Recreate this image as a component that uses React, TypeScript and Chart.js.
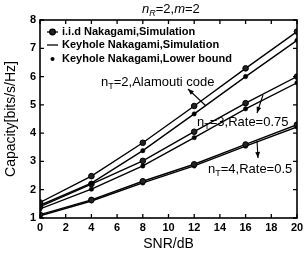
import React, { useEffect, useRef } from 'react';
import { Chart, registerables } from 'chart.js';
Chart.register(...registerables);

const snrDb = [0, 4, 8, 12, 16, 20];
const iidNT2 = [1.55, 2.48, 3.66, 4.96, 6.29, 7.59];
const keyholeNT2 = [1.45, 2.23, 3.38, 4.68, 6.0, 7.28];
const boundNT2 = [1.45, 2.23, 3.38, 4.68, 6.0, 7.28];
const iidNT3 = [1.4, 2.2, 3.02, 4.05, 5.06, 6.0];
const keyholeNT3 = [1.32, 2.02, 2.84, 3.84, 4.86, 5.78];
const boundNT3 = [1.32, 2.02, 2.84, 3.84, 4.86, 5.78];
const iidNT4 = [1.12, 1.64, 2.3, 2.9, 3.6, 4.3];
const keyholeNT4 = [1.08, 1.6, 2.24, 2.84, 3.54, 4.22];
const boundNT4 = [1.08, 1.6, 2.24, 2.84, 3.54, 4.22];

const legendLabels = ['i.i.d Nakagami,Simulation', 'Keyhole Nakagami,Simulation', 'Keyhole Nakagami,Lower bound'];
const xTitle = 'SNR/dB';
const yTitle = 'Capacity[bits/s/Hz]';

const FONT = 'Arial, "Liberation Sans", Helvetica, sans-serif';

type Part = { t: string; sub?: boolean; it?: boolean };

function drawParts(ctx: CanvasRenderingContext2D, parts: Part[], x: number, y: number, size: number, weight: string) {
  let cx = x;
  ctx.textAlign = 'left';
  ctx.textBaseline = 'alphabetic';
  for (const p of parts) {
    const s = p.sub ? Math.round(size * 0.7) : size;
    ctx.font = `${p.it ? 'italic ' : ''}${weight} ${s}px ${FONT}`;
    ctx.fillText(p.t, cx, p.sub ? y + size * 0.25 : y);
    cx += ctx.measureText(p.t).width;
  }
}

function arrow(ctx: CanvasRenderingContext2D, x1: number, y1: number, x2: number, y2: number) {
  ctx.beginPath();
  ctx.moveTo(x1, y1);
  ctx.lineTo(x2, y2);
  ctx.stroke();
  const a = Math.atan2(y2 - y1, x2 - x1);
  const L = 6, W = 2.4;
  ctx.beginPath();
  ctx.moveTo(x2, y2);
  ctx.lineTo(x2 - L * Math.cos(a) + W * Math.sin(a), y2 - L * Math.sin(a) - W * Math.cos(a));
  ctx.lineTo(x2 - L * Math.cos(a) - W * Math.sin(a), y2 - L * Math.sin(a) + W * Math.cos(a));
  ctx.closePath();
  ctx.fill();
}

const decor = {
  id: 'decor',
  afterDraw(chart: any) {
    const ctx: CanvasRenderingContext2D = chart.ctx;
    const { left, right, top, bottom } = chart.chartArea;
    const xs = chart.scales.x, ys = chart.scales.y;
    ctx.save();
    ctx.strokeStyle = '#000';
    ctx.fillStyle = '#000';
    ctx.lineWidth = 1.6;
    ctx.strokeRect(left, top, right - left, bottom - top);
    ctx.lineWidth = 1.3;
    for (let v = 0; v <= 20; v += 2) {
      const px = xs.getPixelForValue(v);
      ctx.beginPath();
      ctx.moveTo(px, bottom); ctx.lineTo(px, bottom - 4);
      ctx.moveTo(px, top); ctx.lineTo(px, top + 4);
      ctx.stroke();
    }
    for (let v = 1; v <= 8; v += 1) {
      const py = ys.getPixelForValue(v);
      ctx.beginPath();
      ctx.moveTo(left, py); ctx.lineTo(left + 4, py);
      ctx.moveTo(right, py); ctx.lineTo(right - 4, py);
      ctx.stroke();
    }

    // legend
    const lx1 = left + 7, lx2 = left + 18, tx = left + 22;
    const rows = [32, 45, 59];
    ctx.lineWidth = 1.3;
    ctx.beginPath(); ctx.moveTo(lx1, rows[0]); ctx.lineTo(lx2, rows[0]); ctx.stroke();
    ctx.beginPath(); ctx.arc((lx1 + lx2) / 2, rows[0], 2.8, 0, Math.PI * 2); ctx.fillStyle = '#222'; ctx.fill(); ctx.stroke();
    ctx.fillStyle = '#000';
    ctx.beginPath(); ctx.moveTo(lx1, rows[1]); ctx.lineTo(lx2, rows[1]); ctx.stroke();
    ctx.beginPath(); ctx.arc((lx1 + lx2) / 2, rows[2], 2, 0, Math.PI * 2); ctx.fill();
    ctx.font = `bold 11px ${FONT}`;
    ctx.textBaseline = 'middle';
    ctx.textAlign = 'left';
    legendLabels.forEach((l, i) => ctx.fillText(l, tx, rows[i]));

    // title
    drawParts(ctx, [{ t: 'n', it: true }, { t: 'R', sub: true, it: true }, { t: '=2,' }, { t: 'm', it: true }, { t: '=2' }], 142, 13, 13, 'normal');

    // annotations
    drawParts(ctx, [{ t: 'n' }, { t: 'T', sub: true }, { t: '=2,Alamouti code' }], 101, 86, 13, 'normal');
    drawParts(ctx, [{ t: 'n' }, { t: 'T', sub: true }, { t: '=3,Rate=0.75' }], 197, 126, 13, 'normal');
    drawParts(ctx, [{ t: 'n' }, { t: 'T', sub: true }, { t: '=4,Rate=0.5' }], 208, 173, 13, 'normal');
    ctx.lineWidth = 1.1;
    arrow(ctx, 206, 106, 188, 89);
    arrow(ctx, 263, 95, 257, 113);
    arrow(ctx, 257, 141, 258, 158);
    ctx.restore();
  },
};

function pts(arr: number[]) {
  return snrDb.map((x, i) => ({ x, y: arr[i] }));
}

export default function App() {
  const ref = useRef<HTMLCanvasElement>(null);
  useEffect(() => {
    if (!ref.current) return;
    const iid = (d: number[]) => ({
      data: pts(d), borderColor: '#000', borderWidth: 1.4, showLine: true,
      pointRadius: 2.8, pointBackgroundColor: '#222', pointBorderColor: '#000', pointBorderWidth: 1,
    });
    const key = (d: number[]) => ({
      data: pts(d), borderColor: '#000', borderWidth: 1.4, showLine: true, pointRadius: 0,
    });
    const bound = (d: number[]) => ({
      data: pts(d), borderColor: '#000', showLine: false, pointRadius: 2.2,
      pointBackgroundColor: '#000', pointBorderColor: '#000', pointBorderWidth: 0.5,
    });
    const chart = new Chart(ref.current, {
      type: 'line',
      data: {
        datasets: [
          iid(iidNT2), key(keyholeNT2), bound(boundNT2),
          iid(iidNT3), key(keyholeNT3), bound(boundNT3),
          iid(iidNT4), key(keyholeNT4), bound(boundNT4),
        ] as any,
      },
      options: {
        animation: false,
        responsive: true,
        maintainAspectRatio: false,
        layout: { padding: { top: 20, right: 7, left: 0, bottom: 0 } },
        plugins: { legend: { display: false }, tooltip: { enabled: false } },
        elements: { line: { tension: 0 } },
        scales: {
          x: {
            type: 'linear', min: 0, max: 20,
            grid: { display: false, drawTicks: false },
            border: { display: false },
            ticks: { stepSize: 2, padding: 3, color: '#000', font: { family: FONT, size: 11, weight: 'bold' }, maxRotation: 0 },
            title: { display: true, text: xTitle, color: '#000', font: { family: FONT, size: 14 }, padding: { top: 0, bottom: 9 } },
            afterFit: (s: any) => { s.height = 44; s.paddingLeft = 0; s.paddingRight = 0; },
          },
          y: {
            type: 'linear', min: 1, max: 8,
            grid: { display: false, drawTicks: false },
            border: { display: false },
            ticks: { stepSize: 1, padding: 4, color: '#000', font: { family: FONT, size: 11, weight: 'bold' } },
            title: { display: true, text: yTitle, color: '#000', font: { family: FONT, size: 14 }, padding: { top: 3, bottom: 0 } },
            afterFit: (s: any) => { s.width = 40; s.paddingTop = 0; s.paddingBottom = 0; },
          },
        },
      } as any,
      plugins: [decor],
    });
    return () => chart.destroy();
  }, []);
  return (
    <div style={{ position: 'fixed', left: 0, top: 0, width: 304, height: 262, background: '#fff' }}>
      <canvas ref={ref} />
    </div>
  );
}
